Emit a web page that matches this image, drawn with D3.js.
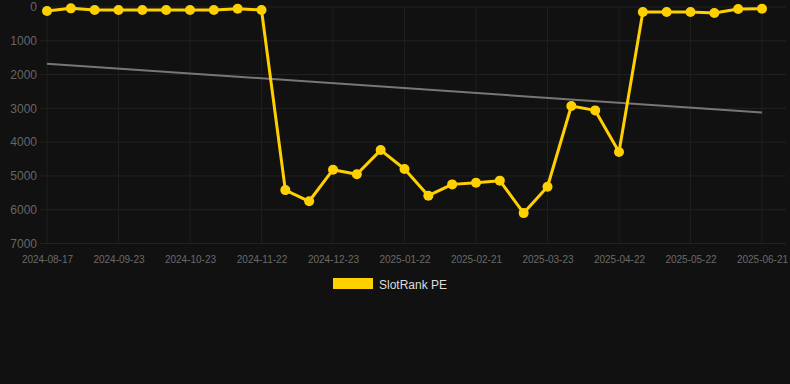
<!DOCTYPE html>
<html><head><meta charset="utf-8">
<script src="https://cdn.jsdelivr.net/npm/d3@7"></script>
<style>
html,body{margin:0;padding:0;background:#111111;}
svg{display:block;font-family:"Liberation Sans",Arial,sans-serif;}
</style></head>
<body><svg id="c" width="790" height="384"></svg>
<script>
const dates = ["2024-08-17","2024-08-29","2024-09-11","2024-09-23","2024-10-03","2024-10-13","2024-10-23","2024-11-02","2024-11-12","2024-11-22",
"2024-12-02","2024-12-12","2024-12-23","2025-01-02","2025-01-12","2025-01-22","2025-02-01","2025-02-11","2025-02-21","2025-03-03",
"2025-03-13","2025-03-23","2025-04-02","2025-04-12","2025-04-22","2025-05-02","2025-05-12","2025-05-22","2025-06-01","2025-06-11","2025-06-21"];
const values = [120,40,90,90,90,90,90,90,50,90,
5420,5750,4815,4950,4235,4795,5585,5250,5200,5140,
6100,5320,2930,3060,4290,150,150,150,180,60,50];
const yTicks = [0,1000,2000,3000,4000,5000,6000,7000];
const seriesName = "SlotRank PE";

const svg = d3.select("#c");
const plotL = 40, plotR = 786, plotT = 7, plotB = 243.5;
const x = d3.scalePoint().domain(dates).range([47, 762]);
const y = d3.scaleLinear().domain([0, 7000]).range([plotT, plotB]);

// grid
svg.append("g").selectAll("line").data(yTicks).join("line")
  .attr("x1", plotL).attr("x2", plotR)
  .attr("y1", d => y(d)).attr("y2", d => y(d))
  .attr("stroke", "#222").attr("stroke-width", 1);
const labeled = dates.filter((d, i) => i % 3 === 0);
svg.append("g").selectAll("line").data(labeled).join("line")
  .attr("x1", d => x(d)).attr("x2", d => x(d))
  .attr("y1", plotT).attr("y2", plotB)
  .attr("stroke", "#1e1e1e").attr("stroke-width", 1);

// y axis labels
const yAxis = d3.axisLeft(y).tickValues(yTicks).tickSize(0).tickPadding(0).tickFormat(d3.format("d"));
const gy = svg.append("g").attr("transform", "translate(37,0)").call(yAxis);
gy.select(".domain").remove();
gy.selectAll("text").attr("fill", "#666").attr("font-size", 12).attr("font-family", "Liberation Sans, Arial, sans-serif");

// x axis labels
const xAxis = d3.axisBottom(x).tickValues(labeled).tickSize(0).tickPadding(0);
const gx = svg.append("g").attr("transform", "translate(0,256)").call(xAxis);
gx.select(".domain").remove();
gx.selectAll("text").attr("fill", "#6a6a6a").attr("font-size", 10).attr("font-family", "Liberation Sans, Arial, sans-serif");

// regression trend
const n = values.length;
const xs = d3.range(n);
const mx = d3.mean(xs), my = d3.mean(values);
const slope = d3.sum(xs, i => (i - mx) * (values[i] - my)) / d3.sum(xs, i => (i - mx) ** 2);
const icpt = my - slope * mx;
svg.append("line")
  .attr("x1", x(dates[0])).attr("y1", y(icpt))
  .attr("x2", x(dates[n - 1])).attr("y2", y(icpt + slope * (n - 1)))
  .attr("stroke", "#777").attr("stroke-width", 2);

// series line
const line = d3.line().x((d, i) => x(dates[i])).y(d => y(d));
svg.append("path").datum(values).attr("d", line)
  .attr("fill", "none").attr("stroke", "#FFD000").attr("stroke-width", 3).attr("stroke-linejoin", "round");
svg.append("g").selectAll("circle").data(values).join("circle")
  .attr("cx", (d, i) => x(dates[i])).attr("cy", d => y(d)).attr("r", 5)
  .attr("fill", "#FFD000");

// legend
svg.append("rect").attr("x", 333).attr("y", 278).attr("width", 40).attr("height", 11).attr("fill", "#FFD000");
svg.append("text").attr("x", 379).attr("y", 288.5).attr("fill", "#ddd").attr("font-size", 12)
  .text(seriesName);
</script></body></html>
